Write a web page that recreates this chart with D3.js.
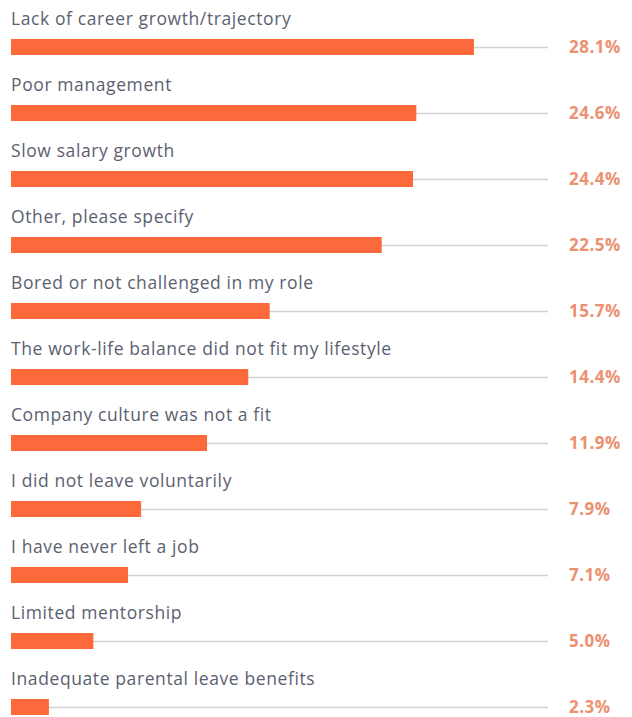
<!DOCTYPE html>
<html>
<head>
<meta charset="utf-8">
<script src="https://cdn.jsdelivr.net/npm/d3@7"></script>
<style>
  html, body { margin: 0; padding: 0; background: #ffffff; }
  svg { display: block; }
</style>
</head>
<body>
<div id="chart"></div>
<script>
// Reasons for leaving a job (share of respondents, %)
const reasons = [
  "Lack of career growth/trajectory",
  "Poor management",
  "Slow salary growth",
  "Other, please specify",
  "Bored or not challenged in my role",
  "The work-life balance did not fit my lifestyle",
  "Company culture was not a fit",
  "I did not leave voluntarily",
  "I have never left a job",
  "Limited mentorship",
  "Inadequate parental leave benefits"
];
const shares = [28.1, 24.6, 24.4, 22.5, 15.7, 14.4, 11.9, 7.9, 7.1, 5.0, 2.3];

const width = 632, height = 717;
const svg = d3.select("#chart").append("svg")
  .attr("width", width).attr("height", height);

const x = d3.scaleLinear().domain([0, 28.1]).range([11, 474]);
const y = d3.scalePoint().domain(reasons).range([47, 707]);

const rows = svg.selectAll("g.row")
  .data(reasons.map((r, i) => ({ reason: r, value: shares[i] })))
  .join("g").attr("class", "row")
  .attr("transform", d => `translate(0,${y(d.reason)})`);

// track line running to the value label
rows.append("line")
  .attr("x1", x(0)).attr("x2", 548)
  .attr("y1", 0.5).attr("y2", 0.5)
  .attr("stroke", "#d2d2d2").attr("stroke-width", 1.5);

rows.append("rect")
  .attr("x", x(0)).attr("y", -8)
  .attr("width", d => x(d.value) - x(0))
  .attr("height", 16)
  .attr("fill", "#fc6a3c");

rows.append("text")
  .attr("x", 11).attr("y", -22)
  .attr("font-family", "'Open Sans', sans-serif")
  .attr("font-size", 17.5)
  .attr("letter-spacing", 0.6)
  .attr("fill", "#5b6170")
  .text(d => d.reason);

rows.append("text")
  .attr("x", 569).attr("y", 6)
  .attr("font-family", "'Open Sans', sans-serif")
  .attr("font-weight", "bold")
  .attr("font-size", 17)
  .attr("letter-spacing", 0.5)
  .attr("fill", "#eb9170")
  .text(d => d3.format(".1f")(d.value) + "%");
</script>
</body>
</html>
